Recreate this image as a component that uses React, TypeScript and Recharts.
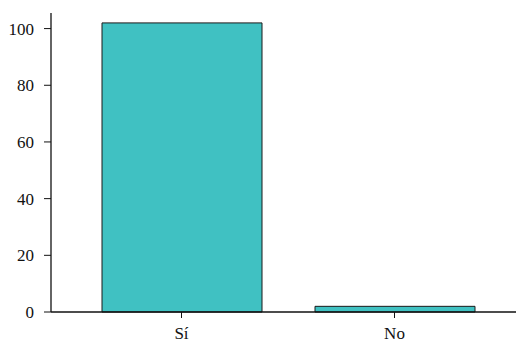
import { BarChart, Bar, XAxis, YAxis } from 'recharts';

const categories = ['Sí', 'No'];
const counts = [102, 2];
const yTicks = [0, 20, 40, 60, 80, 100];

const data = categories.map((name, i) => ({ name, count: counts[i] }));

const font = { fontFamily: '"Liberation Serif", serif', fontSize: 17, fill: '#111' };

export default function App() {
  return (
    <div style={{ position: 'absolute', left: 0, top: 0, width: 516, height: 342, overflow: 'hidden', background: '#fff' }}>
      <BarChart width={525} height={342} data={data} margin={{ top: 13, right: 0, left: 0, bottom: 0 }} barSize={160}>
        <XAxis
          dataKey="name"
          padding={{ left: 24, right: 24 }}
          height={30}
          tickSize={6}
          tickMargin={9}
          tick={font}
          axisLine={{ stroke: '#111', strokeWidth: 1.3 }}
          tickLine={{ stroke: '#111' }}
        />
        <YAxis
          domain={[0, 105.5]}
          ticks={yTicks}
          width={51}
          tickSize={7}
          tickMargin={10}
          tick={font}
          axisLine={{ stroke: '#111', strokeWidth: 1.3 }}
          tickLine={{ stroke: '#111' }}
        />
        <Bar dataKey="count" fill="#40C1C2" stroke="#1a1a1a" strokeWidth={1} isAnimationActive={false} />
      </BarChart>
    </div>
  );
}
